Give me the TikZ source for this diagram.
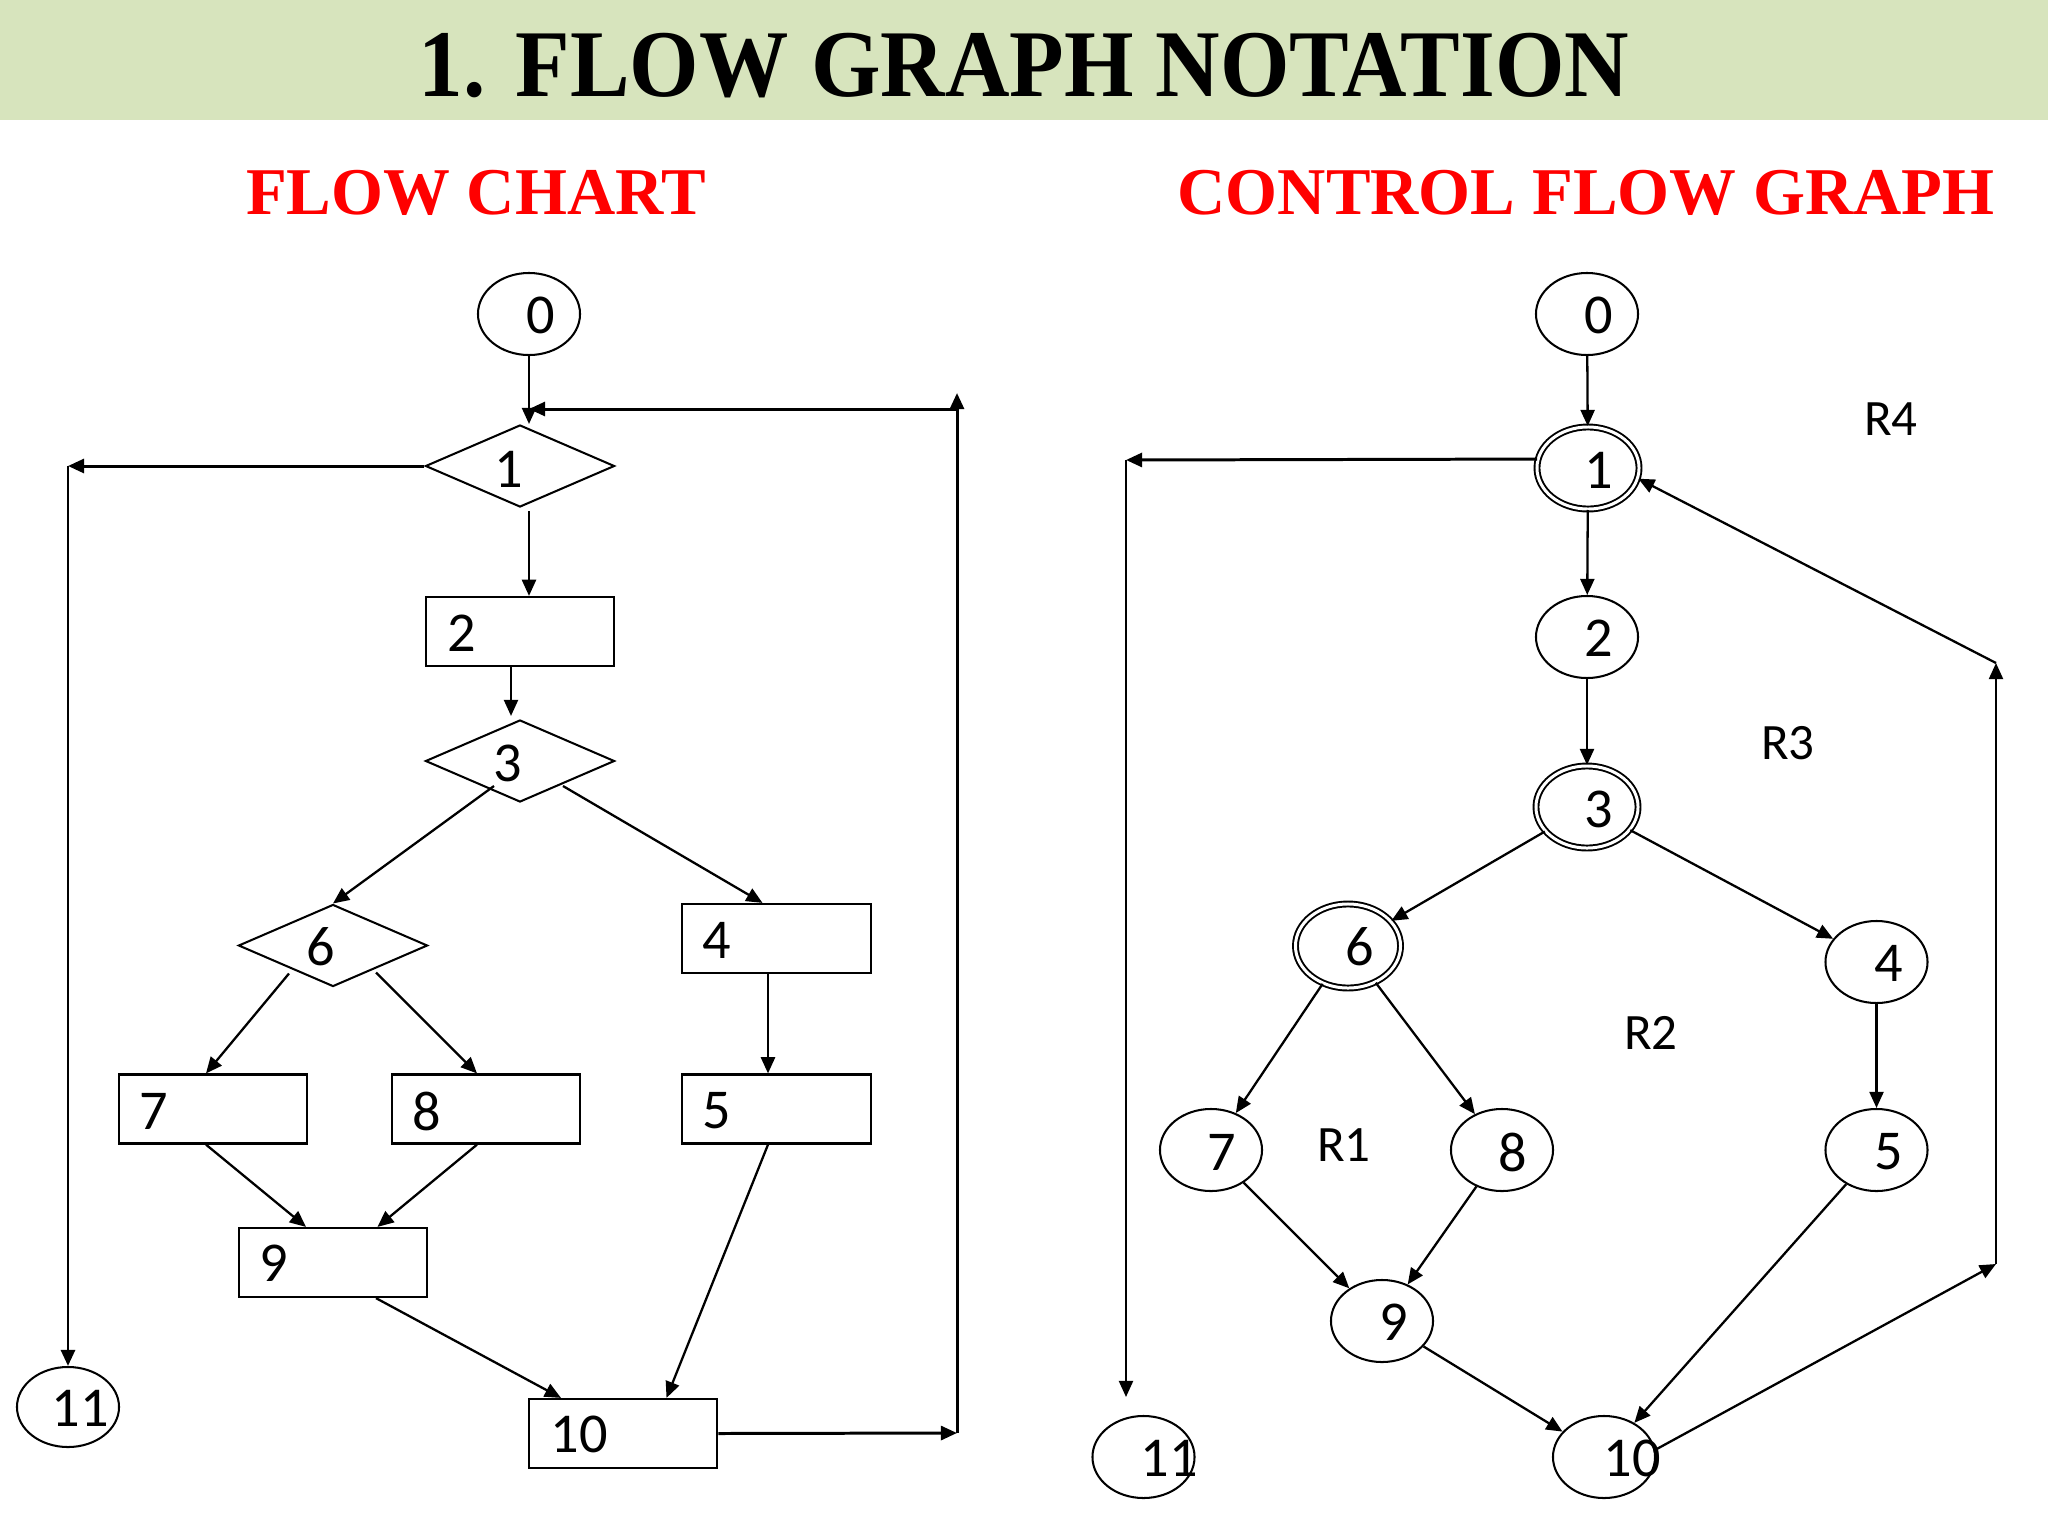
\documentclass[tikz,border=0pt]{standalone}
\usepackage{graphicx}
\usepackage{fontspec}
\setmainfont{Carlito}
\newfontfamily\serifb{Liberation Serif}
\usetikzlibrary{shapes.geometric,arrows.meta,calc}
\definecolor{hdr}{RGB}{215,228,189}
\definecolor{redt}{RGB}{255,0,0}
\begin{document}
\begin{tikzpicture}[x=0.01cm,y=-0.01cm,
  ell/.style={draw, ellipse, line width=0.58pt, inner sep=0pt, minimum width=1.02cm, minimum height=0.82cm},
  dell/.style={ell, line width=0.55pt, double, double distance=0.85pt},
  dia/.style={draw, diamond, line width=0.58pt, inner sep=0pt, minimum width=1.89cm, minimum height=0.82cm},
  boxn/.style={draw, rectangle, line width=0.62pt, inner sep=0pt, minimum width=1.885cm, minimum height=0.69cm},
  num/.style={inner sep=0pt, font=\fontsize{16}{19}\selectfont},
  reg/.style={inner sep=0pt, font=\fontsize{14.5}{17}\selectfont},
  arr/.style={line width=0.65pt, -{Triangle[length=4.6pt,width=4pt]}},
  arrt/.style={arr, line width=0.85pt}]
\useasboundingbox (0,0) rectangle (2048,1536);
\fill[white] (0,0) rectangle (2048,1536);
\fill[hdr] (0,0) rectangle (2048,120);

% titles
\node[anchor=base, inner sep=0pt] (title) at (1024,96)
  {\serifb\bfseries\fontsize{25.4}{30}\selectfont\scalebox{1}[1.07]{1. FLOW GRAPH NOTATION}};
\node[anchor=base, inner sep=0pt, text=redt] (subL) at (476,214)
  {\serifb\bfseries\fontsize{19}{22}\selectfont FLOW CHART};
\node[anchor=base, inner sep=0pt, text=redt] (subR) at (1586,214)
  {\serifb\bfseries\fontsize{19}{22}\selectfont CONTROL FLOW GRAPH};

% ---------------- left: flow chart ----------------
\node[ell] (L0) at (529,314) {};
\node[dia] (L1) at (520,466) {};
\node[boxn] (L2) at (520,631.5) {};
\node[dia] (L3) at (520,761) {};
\node[boxn] (L4) at (776.5,938.5) {};
\node[boxn] (L5) at (776.5,1109) {};
\node[dia] (L6) at (333,945.5) {};
\node[boxn] (L7) at (213,1109) {};
\node[boxn] (L8) at (486,1109) {};
\node[boxn] (L9) at (333,1262.5) {};
\node[boxn] (L10) at (623,1433.5) {};
\node[ell, minimum height=0.80cm] (L11) at (68,1407) {};

\node[num] (tL0) at (541,315) {0};
\node[num] (tL1) at (509,469) {1};
\node[num] (tL2) at (462,633) {2};
\node[num] (tL3) at (508,763) {3};
\node[num] (tL4) at (717,940) {4};
\node[num] (tL5) at (717,1111) {5};
\node[num] (tL6) at (321,947) {6};
\node[num] (tL7) at (154,1111) {7};
\node[num] (tL8) at (427,1111) {8};
\node[num] (tL9) at (274,1263) {9};
\node[num] (tL10) at (579,1434) {10};
\node[num] (tL11) at (80,1408) {11};

\coordinate (LRb) at (957,1433);
\coordinate (LRt) at (957,393);
\coordinate (LRc) at (957,409);

\draw[arr] (L0.south) -- (L0.south |- L1.north);
\draw[arr] ($(L0.south |- L1.south)+(0,3)$) -- (L0.south |- L2.north);
\draw[arr] ($(L2.south)+(-9,0)$) -- ($(L3.north)+(-9,-3)$);
\draw[arr] ($(L3.center)+(-26,25)$) -- (L6.north);
\draw[arr] ($(L3.center)+(43,25)$) -- ($(L4.north)+(-14,0)$);
\draw[arr] ($(L4.south)+(-8.5,0)$) -- ($(L5.north)+(-8.5,0)$);
\draw[arr] ($(L6.center)+(-44,28)$) -- ($(L7.north)+(-7,0)$);
\draw[arr] ($(L6.center)+(43,27)$) -- ($(L8.north)+(-9,0)$);
\draw[arr] ($(L7.south)+(-7,0)$) -- ($(L9.north)+(-27,0)$);
\draw[arr] ($(L8.south)+(-9,0)$) -- ($(L9.north)+(44.5,0)$);
\draw[arr] ($(L9.south)+(43,0)$) -- ($(L10.north)+(-62,0)$);
\draw[arr] ($(L5.south)+(-8.5,0)$) -- ($(L10.north)+(43.5,0)$);
\draw[arrt] (L10.east) -- (LRb);
\draw[arrt] (LRb) -- (LRt);
\draw[arrt] (LRc) -- (L0.south |- LRc);
\draw[arrt] (L1.west) -- (L1.west -| L11.north);
\draw[arrt] (L1.west -| L11.north) -- (L11.north);

% ---------------- right: control flow graph ----------------
\node[ell] (R0) at (1587,314) {};
\node[dell] (R1) at (1588,468) {};
\node[ell] (R2) at (1587,637) {};
\node[dell] (R3) at (1587,807) {};
\node[dell, minimum width=1.05cm, minimum height=0.84cm] (R6) at (1348,946) {};
\node[ell] (R4) at (1876.5,962) {};
\node[ell] (R5) at (1876.5,1150) {};
\node[ell] (R7) at (1211,1150) {};
\node[ell] (R8) at (1502,1150) {};
\node[ell] (R9) at (1382,1321) {};
\node[ell] (R10) at (1604,1457) {};
\node[ell] (R11) at (1143.5,1457) {};

\node[num] (tR0) at (1599,315) {0};
\node[num] (tR1) at (1599,470) {1};
\node[num] (tR2) at (1599,638) {2};
\node[num] (tR3) at (1599,809) {3};
\node[num] (tR6) at (1360,947) {6};
\node[num] (tR4) at (1889,963) {4};
\node[num] (tR5) at (1889,1152) {5};
\node[num] (tR7) at (1222,1152) {7};
\node[num] (tR8) at (1513,1152) {8};
\node[num] (tR9) at (1394,1322) {9};
\node[num] (tR10) at (1632,1458) {10};
\node[num] (tR11) at (1169,1458) {11};

\node[reg] (rg4) at (1891,419) {R4};
\node[reg] (rg3) at (1788,743) {R3};
\node[reg] (rg2) at (1651,1033) {R2};
\node[reg] (rg1) at (1344,1145) {R1};

\coordinate (RL1) at (1126,460);
\coordinate (RL2) at (1126,1397);
\coordinate (RC1) at (1996,1264);
\coordinate (RC2) at (1996,663);

\draw[arr] (R0) -- (R1);
\draw[arr] (R1) -- (R2);
\draw[arr] (R2) -- (R3);
\draw[arr] (R3) -- (R6);
\draw[arr] (R3) -- (R4);
\draw[arr] (R4) -- (R5);
\draw[arr] (R6) -- (R7);
\draw[arr] (R6) -- (R8);
\draw[arr] (R7) -- (R9);
\draw[arr] (R8) -- (R9);
\draw[arr] (R9) -- (R10);
\draw[arr] (R5) -- (R10);
\draw[arr] (R10.8) -- (RC1);
\draw[arr] (RC1) -- (RC2);
\draw[arr] (RC2) -- (R1.-12);
\draw[arrt] (R1.170) -- (RL1);
\draw[arr] (RL1) -- (RL2);
\end{tikzpicture}
\end{document}
